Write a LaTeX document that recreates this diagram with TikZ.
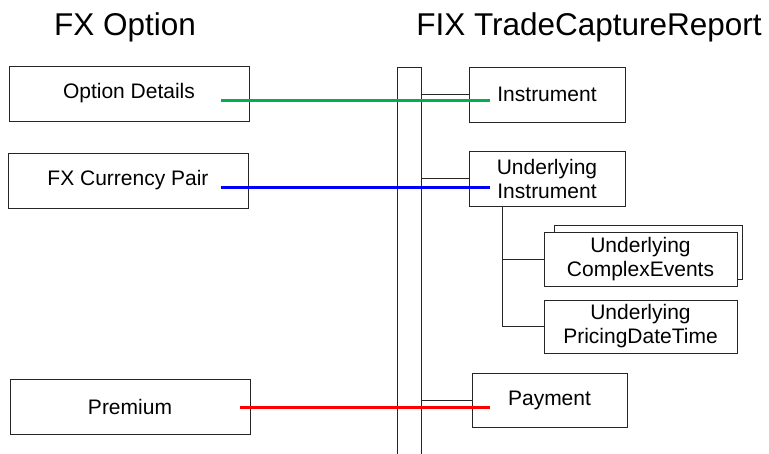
\documentclass[tikz,border=0pt]{standalone}
\usepackage{fontspec}
\setmainfont{Liberation Sans}
\definecolor{mapgreen}{RGB}{0,176,80}
\definecolor{mapblue}{RGB}{0,0,255}
\definecolor{mapred}{RGB}{255,0,0}
\usetikzlibrary{calc}

\begin{document}
\begin{tikzpicture}[x=1pt,y=-1pt,
    every node/.style={font=\fontsize{21}{24}\selectfont},
    box/.style={draw=black!85,line width=1pt,fill=white,align=center,
                inner sep=0pt,minimum height=55pt},
    hdr/.style={font=\fontsize{31.5}{36}\selectfont,anchor=base},
    link/.style={draw=black!85,line width=1pt},
    map/.style={line width=3pt}]
  \useasboundingbox (0,0) rectangle (769,453);
  \clip (0,0) rectangle (769,453);
  \node[hdr] (fxopt) at (125,35) {FX Option};
  \node[hdr] (fixtcr) at (589,35) {FIX TradeCaptureReport};
  \node[draw=black!85,line width=1pt,anchor=north,minimum width=24pt,
        minimum height=420pt] (bar) at (409,67) {};

  % FX option side
  \node[box,minimum width=240pt] (optdet) at (129,93.5) {Option Details};
  \node[box,minimum width=240pt] (ccypair) at (128,180.5) {FX Currency Pair};
  \node[box,minimum width=240pt] (premium) at (130,406.5) {Premium};

  % FIX side
  \node[box,minimum width=156pt] (instr) at (547,94.5) {Instrument};
  \node[box,minimum width=156pt] (undinstr) at (547,178.5) {Underlying\\Instrument};
  \node[box,minimum width=188pt,minimum height=54pt] (undevtsbk) at (648,252) {};
  \node[box,minimum width=193pt,minimum height=54pt] (undevts)
        at (640.5,259) {Underlying\\ComplexEvents};
  \node[box,minimum width=193pt,minimum height=53pt] (undpxdt)
        at (640.5,326.5) {Underlying\\PricingDateTime};
  \node[box,minimum width=155pt,minimum height=54pt] (payment) at (549.5,400) {Payment};

  \draw[link] (instr.west) -- (instr.west -| bar.east);
  \draw[link] (undinstr.west) -- (undinstr.west -| bar.east);
  \draw[link] (payment.west) -- (payment.west -| bar.east);
  \coordinate (trunk) at ($(undinstr.south west)+(34,0)$);
  \draw[link] (trunk) |- (undpxdt.west);
  \draw[link] (trunk |- undevts.west) -- (undevts.west);

  % mappings
  \draw[map,mapgreen] ($(optdet.east)+(-29,7)$) -- ($(instr.west)+(21,6)$);
  \draw[map,mapblue] ($(ccypair.east)+(-28,6.5)$) -- ($(undinstr.west)+(21,8.5)$);
  \draw[map,mapred] ($(premium.east)+(-11,0.5)$) -- ($(payment.west)+(18,7)$);
\end{tikzpicture}
\end{document}
